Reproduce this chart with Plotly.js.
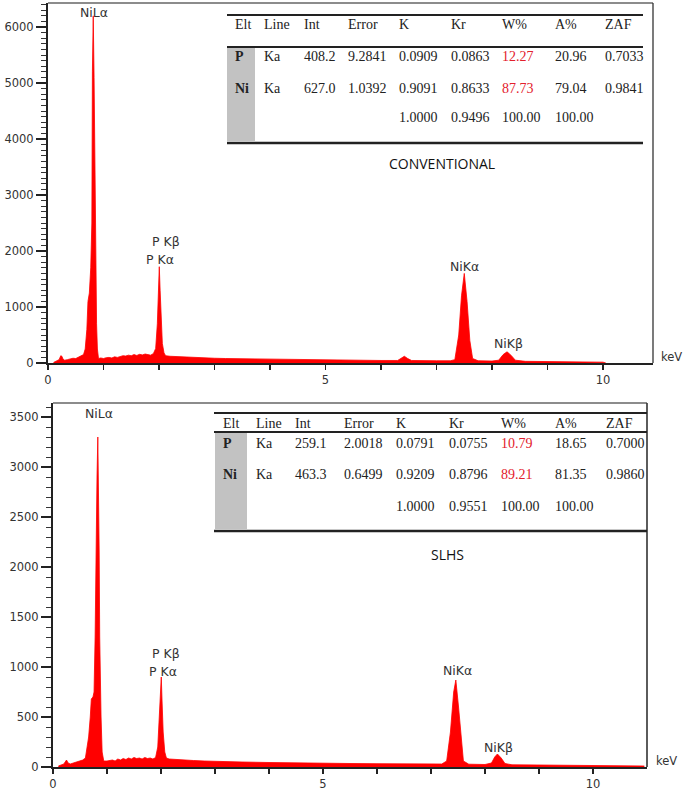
<!DOCTYPE html>
<html>
<head>
<meta charset="utf-8">
<script src="https://cdn.plot.ly/plotly-3.0.1.min.js"></script>
<style>html,body{margin:0;padding:0;background:#fff;}#chart{width:685px;height:791px;}</style>
</head>
<body>
<div id="chart"></div>
<script>
// ---------------- DATA ----------------
// CONVENTIONAL spectrum (energy keV, counts)
const convKeV = [0.10,0.15,0.20,0.23,0.25,0.27,0.30,0.35,0.40,0.45,0.50,0.55,0.60,0.64,0.67,0.70,0.72,0.745,0.77,0.79,
  0.80,0.815,0.83,0.845,0.86,0.875,0.89,0.91,0.95,1.00,1.05,1.10,1.15,1.20,1.25,1.30,1.35,1.40,1.45,1.50,
  1.55,1.60,1.65,1.70,1.75,1.80,1.85,1.90,1.94,1.97,1.99,2.005,2.02,2.04,2.06,2.09,2.12,2.20,2.30,2.40,
  2.50,2.60,2.80,3.00,3.20,3.50,3.80,4.00,4.50,5.00,5.50,6.00,6.30,6.38,6.42,6.48,6.55,7.00,7.25,7.33,
  7.40,7.45,7.50,7.55,7.60,7.65,7.75,8.00,8.12,8.20,8.27,8.34,8.42,8.60,9.00,9.50,10.00,10.05];
const convCounts = [10,30,60,130,120,70,50,60,70,85,80,100,120,150,250,600,1100,1250,1700,2500,
  5200,6200,5100,3500,1600,700,250,80,90,80,95,100,90,110,100,120,130,125,140,130,
  150,135,155,145,160,150,140,170,260,700,1300,1720,1300,700,350,180,130,120,115,105,
  100,95,90,85,80,75,70,65,60,55,50,45,45,100,120,80,45,40,40,60,
  500,1200,1600,1100,400,80,40,35,50,150,200,140,50,30,25,20,15,0];

// SLHS spectrum (energy keV, counts)
const slhsKeV = [0.10,0.15,0.20,0.25,0.28,0.32,0.40,0.45,0.50,0.55,0.60,0.62,0.66,0.69,0.71,0.74,0.76,0.78,0.80,0.815,
  0.83,0.845,0.855,0.865,0.875,0.89,0.91,0.94,1.00,1.05,1.10,1.15,1.20,1.25,1.30,1.35,1.40,1.45,1.50,1.55,
  1.60,1.65,1.70,1.75,1.80,1.85,1.90,1.94,1.97,1.99,2.005,2.02,2.04,2.07,2.10,2.15,2.25,2.40,2.60,2.80,
  3.00,3.50,4.00,4.50,5.00,5.50,6.00,6.50,7.00,7.20,7.29,7.36,7.42,7.46,7.51,7.56,7.60,7.70,8.00,8.12,
  8.18,8.23,8.30,8.37,8.50,9.00,9.50,10.00,10.50,10.95];
const slhsCounts = [10,20,30,70,40,30,45,55,60,70,90,150,300,500,680,700,750,1300,2450,2900,
  3300,2700,2150,1300,900,500,150,60,60,65,70,60,80,70,85,75,90,80,95,85,
  90,80,95,85,90,80,95,200,500,800,900,650,350,150,90,80,75,70,65,60,
  55,50,45,40,38,35,33,30,28,30,60,350,750,870,600,250,60,28,25,40,
  100,130,90,35,22,20,18,15,12,10];

// axis tick labels
const xTickVals = [0,1,2,3,4,5,6,7,8,9,10];
const xTickText = ['0','','','','','5','','','','','10'];

// peak labels
const peakLabels = ['NiLα','P Kβ','P Kα','NiKα','NiKβ'];

// quantification tables
const tableHeaders = ['Elt','Line','Int','Error','K','Kr','W%','A%','ZAF'];
const convRows = [
  ['P','Ka','408.2','9.2841','0.0909','0.0863','12.27','20.96','0.7033'],
  ['Ni','Ka','627.0','1.0392','0.9091','0.8633','87.73','79.04','0.9841'],
  ['','','','','1.0000','0.9496','100.00','100.00','']
];
const slhsRows = [
  ['P','Ka','259.1','2.0018','0.0791','0.0755','10.79','18.65','0.7000'],
  ['Ni','Ka','463.3','0.6499','0.9209','0.8796','89.21','81.35','0.9860'],
  ['','','','','1.0000','0.9551','100.00','100.00','']
];
const panelNames = ['CONVENTIONAL','SLHS'];

// ---------------- LAYOUT HELPERS ----------------
const W = 685, H = 791, ML = 48, MR = 32, MT = 3, MB = 24;
const PW = W - ML - MR, PH = H - MT - MB;
const px = X => (X - ML) / PW;
const py = Y => (H - MB - Y) / PH;

const annotations = [];
const shapes = [];
const axFont = {family: 'DejaVu Sans, sans-serif', size: 11.5, color: '#333'};
const lblFont = {family: 'DejaVu Sans, sans-serif', size: 12.5, color: '#333'};
const tblFont = {family: 'Liberation Serif, Times New Roman, serif', size: 14, color: '#222'};

function txt(X, Y, text, font, xanchor) {
  annotations.push({xref: 'paper', yref: 'paper', x: px(X), y: py(Y), text: text,
    showarrow: false, font: font, xanchor: xanchor || 'center', yanchor: 'middle'});
}
function hline(X1, X2, Y, w, c) {
  shapes.push({type: 'line', xref: 'paper', yref: 'paper', x0: px(X1), x1: px(X2), y0: py(Y), y1: py(Y),
    line: {color: c || '#222', width: w}});
}
function vline(X, Y1, Y2, w, c) {
  shapes.push({type: 'line', xref: 'paper', yref: 'paper', x0: px(X), x1: px(X), y0: py(Y1), y1: py(Y2),
    line: {color: c || '#222', width: w}});
}
function rect(X1, Y1, X2, Y2, c) {
  shapes.push({type: 'rect', xref: 'paper', yref: 'paper', x0: px(X1), x1: px(X2), y0: py(Y1), y1: py(Y2),
    fillcolor: c, line: {width: 0}, layer: 'below'});
}

function drawTable(rows, colX, headY, rowY, lineX1, lineX2, lineYs, grayBox, name, nameXY) {
  rect(grayBox[0], grayBox[1], grayBox[2], grayBox[3], '#c2c2c2');
  hline(lineX1, lineX2, lineYs[0], 1.8);
  hline(lineX1, lineX2, lineYs[1], 2);
  hline(lineX1, lineX2, lineYs[2], 2.5);
  tableHeaders.forEach((h, i) => txt(colX[i], headY, h, tblFont, 'left'));
  rows.forEach((r, ri) => {
    r.forEach((v, ci) => {
      if (v === '') return;
      let f = Object.assign({}, tblFont);
      let t = v;
      if (ci === 0) t = '<b>' + v + '</b>';
      if (ci === 6 && ri < 2) f.color = '#e3202c';
      txt(colX[ci], rowY[ri], t, f, 'left');
    });
  });
  txt(nameXY[0], nameXY[1], name, {family: 'Open Sans, sans-serif', size: 14, color: '#111'});
}

// frames
hline(48, 653, 3, 1.3, '#666');
vline(653, 3, 363, 1.3, '#333');
hline(53, 647, 403, 1.3, '#666');
vline(647, 403, 767, 1.6, '#333');

// tables
drawTable(convRows, [233, 262, 302, 346, 397, 449, 500, 553, 603], 25, [57, 88, 118],
  227, 643, [15, 47, 143], [227, 48, 255, 141], panelNames[0], [442, 163]);
drawTable(slhsRows, [221, 254, 293, 342, 394, 447, 499, 553, 604], 423, [443, 474, 506],
  214, 647, [413, 432, 531], [215, 433, 247, 529], panelNames[1], [447, 554]);

// peak labels
txt(94, 13, peakLabels[0], lblFont);
txt(166, 242, peakLabels[1], lblFont);
txt(160, 259, peakLabels[2], lblFont);
txt(464, 266, peakLabels[3], lblFont);
txt(508, 343, peakLabels[4], lblFont);
txt(99, 413, peakLabels[0], lblFont);
txt(166, 653, peakLabels[1], lblFont);
txt(163, 671, peakLabels[2], lblFont);
txt(457, 670, peakLabels[3], lblFont);
txt(498, 747, peakLabels[4], lblFont);
txt(671, 357, 'keV', axFont);
txt(666, 761, 'keV', axFont);

// ---------------- TRACES ----------------
const spec = (x, y, xa, ya) => ({
  type: 'scatter', mode: 'lines', x: x, y: y, xaxis: xa, yaxis: ya,
  line: {color: '#ff0000', width: 0.8}, fill: 'tozeroy', fillcolor: '#ff0000',
  hoverinfo: 'skip', showlegend: false
});
const data = [spec(convKeV, convCounts, 'x', 'y'), spec(slhsKeV, slhsCounts, 'x2', 'y2')];

const xCommon = {
  tickvals: xTickVals, ticktext: xTickText, ticks: 'outside', ticklen: 5, tickwidth: 1.5, tickcolor: '#222',
  showline: true, linewidth: 2, linecolor: '#222', showgrid: false, zeroline: false, tickfont: axFont, fixedrange: true
};
const yCommon = {
  ticks: 'outside', ticklen: 10, tickwidth: 1.3, tickcolor: '#222',
  minor: {dtick: 100, ticks: 'outside', ticklen: 5, tickwidth: 1, tickcolor: '#333'},
  showline: true, linewidth: 2, linecolor: '#222', showgrid: false, zeroline: false, tickfont: axFont, fixedrange: true
};

const layout = {
  width: W, height: H,
  margin: {l: ML, r: MR, t: MT, b: MB},
  paper_bgcolor: '#fff', plot_bgcolor: '#fff',
  showlegend: false,
  xaxis: Object.assign({}, xCommon, {domain: [0, 1], range: [0, 10.9], anchor: 'y'}),
  yaxis: Object.assign({}, yCommon, {domain: [py(363), 1], range: [0, 6430], dtick: 1000, anchor: 'x'}),
  xaxis2: Object.assign({}, xCommon, {domain: [px(53), px(647)], range: [0, 11.0], anchor: 'y2'}),
  yaxis2: Object.assign({}, yCommon, {domain: [0, py(403)], range: [0, 3640], dtick: 500, anchor: 'x2'}),
  annotations: annotations,
  shapes: shapes
};

Plotly.newPlot('chart', data, layout, {displayModeBar: false, staticPlot: true});
</script>
</body>
</html>
